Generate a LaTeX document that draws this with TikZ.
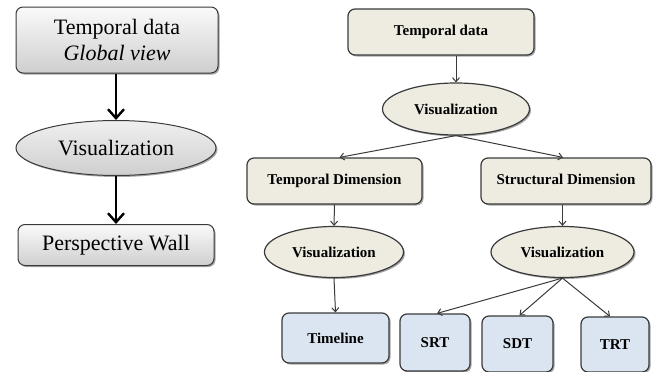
\documentclass[tikz,border=0pt]{standalone}
\usepackage{fontspec}
\setmainfont{Liberation Serif}
\usetikzlibrary{arrows.meta,shapes.geometric,shadows}
\definecolor{beige}{HTML}{EEECE1}
\definecolor{lblue}{HTML}{DBE5F1}
\definecolor{edge}{HTML}{3A3A3A}
\tikzset{
  shad/.style={drop shadow={shadow xshift=1.5pt,shadow yshift=-1.5pt,opacity=0.35,fill=black}},
  lbox/.style={shad,draw=edge,line width=1pt,rounded corners=7pt,top color=gray!4,bottom color=gray!38,
    font=\fontsize{22}{28}\selectfont,align=center,inner sep=0pt},
  lell/.style={shad,ellipse,draw=edge,line width=1pt,top color=gray!12,bottom color=gray!38,
    font=\fontsize{22}{26}\selectfont,inner sep=0pt},
  rbox/.style={shad,draw=edge,line width=1.2pt,rounded corners=7pt,fill=beige,
    font=\fontsize{15}{18}\selectfont\bfseries,align=center,inner sep=0pt},
  rell/.style={shad,ellipse,draw=edge,line width=1.2pt,fill=beige,
    font=\fontsize{15}{18}\selectfont\bfseries,inner sep=0pt},
  bbox/.style={shad,draw=edge,line width=1.2pt,rounded corners=7pt,fill=lblue,
    font=\fontsize{15}{18}\selectfont\bfseries,align=center,inner sep=0pt},
  thick arr/.style={line width=2.4pt,black,-{Straight Barb[length=9pt,width=16pt,line width=2.4pt]}},
  thin arr/.style={line width=1pt,edge,-{Straight Barb[length=4pt,width=7pt]}}
}
\begin{document}
\begin{tikzpicture}[x=1pt,y=-1pt]
\useasboundingbox (0,0) rectangle (654,372);
% left column
\node[lbox,minimum width=202pt,minimum height=66pt] (ltd) at (117,40) {Temporal data\\[-2pt]\textit{Global view}};
\node[lell,minimum width=200pt,minimum height=55pt] (lvis) at (116,148) {Visualization};
\node[lbox,minimum width=196pt,minimum height=41pt] (lpw) at (116,245) {Perspective Wall};
\draw[thick arr] (ltd.south -| lvis.north) -- (lvis.north);
\draw[thick arr] (lvis.south) -- (lpw.north);
% right tree
\node[rbox,minimum width=186pt,minimum height=46pt] (rtd) at (441,32) {Temporal data};
\node[rell,minimum width=147pt,minimum height=52pt] (rvis) at (456,109) {Visualization};
\node[rbox,minimum width=175pt,minimum height=46pt] (rtdim) at (334.5,181) {Temporal Dimension};
\node[rbox,minimum width=170pt,minimum height=46pt] (rsdim) at (566,181) {\raisebox{4pt}{Structural Dimension}};
\node[rell,minimum width=139pt,minimum height=51pt] (rvis2) at (334,252) {Visualization};
\node[rell,minimum width=143pt,minimum height=51pt] (rvis3) at (562.5,252) {Visualization};
\node[bbox,minimum width=107pt,minimum height=50pt] (tl) at (335.5,338) {Timeline};
\node[bbox,minimum width=70pt,minimum height=57pt] (srt) at (435,342.5) {SRT};
\node[bbox,minimum width=71pt,minimum height=56pt] (sdt) at (517.5,344) {SDT};
\node[bbox,minimum width=68pt,minimum height=55pt] (trt) at (615,344.5) {TRT};
\draw[thin arr] (rtd.south -| rvis.north) -- (rvis.north);
\draw[thin arr] (rvis.south) -- ([xshift=5pt]rtdim.north);
\draw[thin arr] (rvis.south) -- ([xshift=-3pt]rsdim.north);
\draw[thin arr] (rtdim.south) -- (rvis2.north);
\draw[thin arr] (rvis2.south) -- (tl.north);
\draw[thin arr] (rsdim.south -| rvis3.north) -- (rvis3.north);
\draw[thin arr] (rvis3.south) -- ([xshift=2pt]srt.north);
\draw[thin arr] (rvis3.south) -- ([xshift=2pt]sdt.north);
\draw[thin arr] (rvis3.south) -- ([xshift=-5pt]trt.north);
\end{tikzpicture}
\end{document}
